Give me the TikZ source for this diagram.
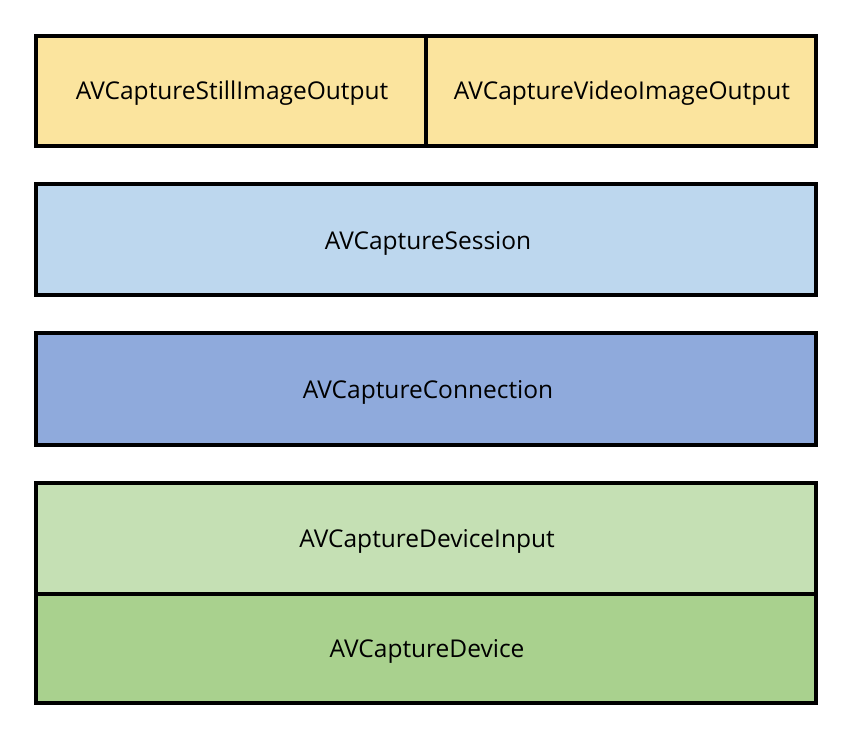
\documentclass[tikz,border=0pt]{standalone}
\usepackage{fontspec}
\setmainfont{Open Sans}
\definecolor{cyellow}{HTML}{FBE49E}
\definecolor{clblue}{HTML}{BDD7EE}
\definecolor{cmblue}{HTML}{8FAADC}
\definecolor{clgreen}{HTML}{C5E0B4}
\definecolor{cdgreen}{HTML}{A9D18E}
\tikzset{
  layer/.style={draw=black, line width=4pt, inner sep=0pt, outer sep=0pt},
  lbl/.style={font=\fontsize{24.5}{28}\selectfont, text=black}
}
\begin{document}
\begin{tikzpicture}[x=1pt,y=-1pt]
\useasboundingbox (0,0) rectangle (844,744);
% top
\path[layer, fill=cyellow] (36,36) rectangle (816,145.5);
\draw[black, line width=4pt] (425.5,36) -- (425.5,145.5);
\node[lbl] (still) at (232,93) {AVCaptureStillImageOutput};
\node[lbl] (video) at (622,93) {AVCaptureVideoImageOutput};
% session
\path[layer, fill=clblue] (36,184) rectangle (816,295);
\node[lbl] (session) at (428,243) {AVCaptureSession};
% connection
\path[layer, fill=cmblue] (36,333) rectangle (816,445);
\node[lbl] (conn) at (428,392) {AVCaptureConnection};
% device
\path[layer, fill=clgreen] (36,483) rectangle (816,594);
\path[layer, fill=cdgreen] (36,594) rectangle (816,703);
\node[lbl] (input) at (427,541) {AVCaptureDeviceInput};
\node[lbl] (device) at (427,651) {AVCaptureDevice};
\end{tikzpicture}
\end{document}
